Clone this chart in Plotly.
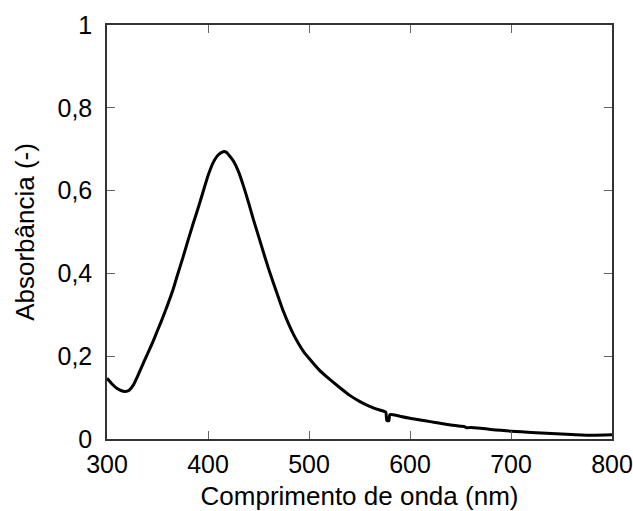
import plotly.graph_objects as go

wavelength = [300, 305, 310, 315, 318, 322, 326, 330, 335, 340, 345, 350, 355, 360, 365,
              370, 375, 380, 385, 390, 395, 400, 405, 410, 415, 418, 420, 425, 430, 435,
              440, 445, 450, 455, 460, 465, 470, 475, 480, 485, 490, 495, 500, 510, 520,
              530, 540, 550, 560, 570, 576, 577, 579, 580, 585, 590, 600, 610, 620, 630,
              640, 650, 654, 656, 660, 670, 680, 690, 700, 720, 740, 760, 780, 800]
absorbance = [0.147, 0.133, 0.122, 0.116, 0.115, 0.118, 0.130, 0.150, 0.178, 0.205, 0.232,
              0.262, 0.292, 0.324, 0.358, 0.398, 0.437, 0.478, 0.518, 0.556, 0.596, 0.636,
              0.667, 0.686, 0.694, 0.693, 0.688, 0.672, 0.647, 0.612, 0.572, 0.530, 0.490,
              0.450, 0.411, 0.375, 0.340, 0.306, 0.277, 0.251, 0.229, 0.210, 0.195, 0.167,
              0.145, 0.125, 0.106, 0.091, 0.079, 0.070, 0.065, 0.045, 0.044, 0.059, 0.058,
              0.055, 0.050, 0.046, 0.042, 0.038, 0.034, 0.031, 0.030, 0.027, 0.028, 0.026,
              0.023, 0.021, 0.019, 0.016, 0.013, 0.011, 0.009, 0.010]

x_ticks = [300, 400, 500, 600, 700, 800]
y_ticks = [0, 0.2, 0.4, 0.6, 0.8, 1]
y_tick_labels = ["0", "0,2", "0,4", "0,6", "0,8", "1"]

fig = go.Figure()
fig.add_trace(go.Scatter(x=wavelength, y=absorbance, mode="lines",
                         line=dict(color="black", width=3, shape="spline", smoothing=0.5),
                         showlegend=False))

tick_font = dict(family="Liberation Sans, Arial, sans-serif", size=25, color="black")
title_font = dict(family="Liberation Sans, Arial, sans-serif", size=26, color="black")

fig.update_layout(
    width=633, height=511,
    margin=dict(l=107, r=21, t=25, b=72),
    paper_bgcolor="white", plot_bgcolor="white",
    font=tick_font,
    xaxis=dict(range=[300, 800], tickvals=x_ticks, ticks="inside", ticklen=8,
               tickcolor="#666", tickwidth=1, showline=True, linecolor="#333",
               linewidth=1.5, mirror="ticks", showgrid=False, zeroline=False,
               automargin=False, ticklabelstandoff=2,
               title=dict(text="Comprimento de onda (nm)", standoff=10, font=title_font),
               tickfont=tick_font),
    yaxis=dict(range=[0, 1], tickvals=y_ticks, ticktext=y_tick_labels, ticks="inside",
               ticklen=8, tickcolor="#666", tickwidth=1, showline=True, linecolor="#333",
               linewidth=1.5, mirror="ticks", showgrid=False, zeroline=False,
               automargin=False, ticklabelstandoff=8,
               title=dict(text="Absorbância (-)", standoff=15, font=title_font),
               tickfont=tick_font),
)

fig.write_html(
    "out.html",
    config={"displayModeBar": False},
    post_script="document.body.style.margin='0';document.body.style.overflow='hidden';",
)
